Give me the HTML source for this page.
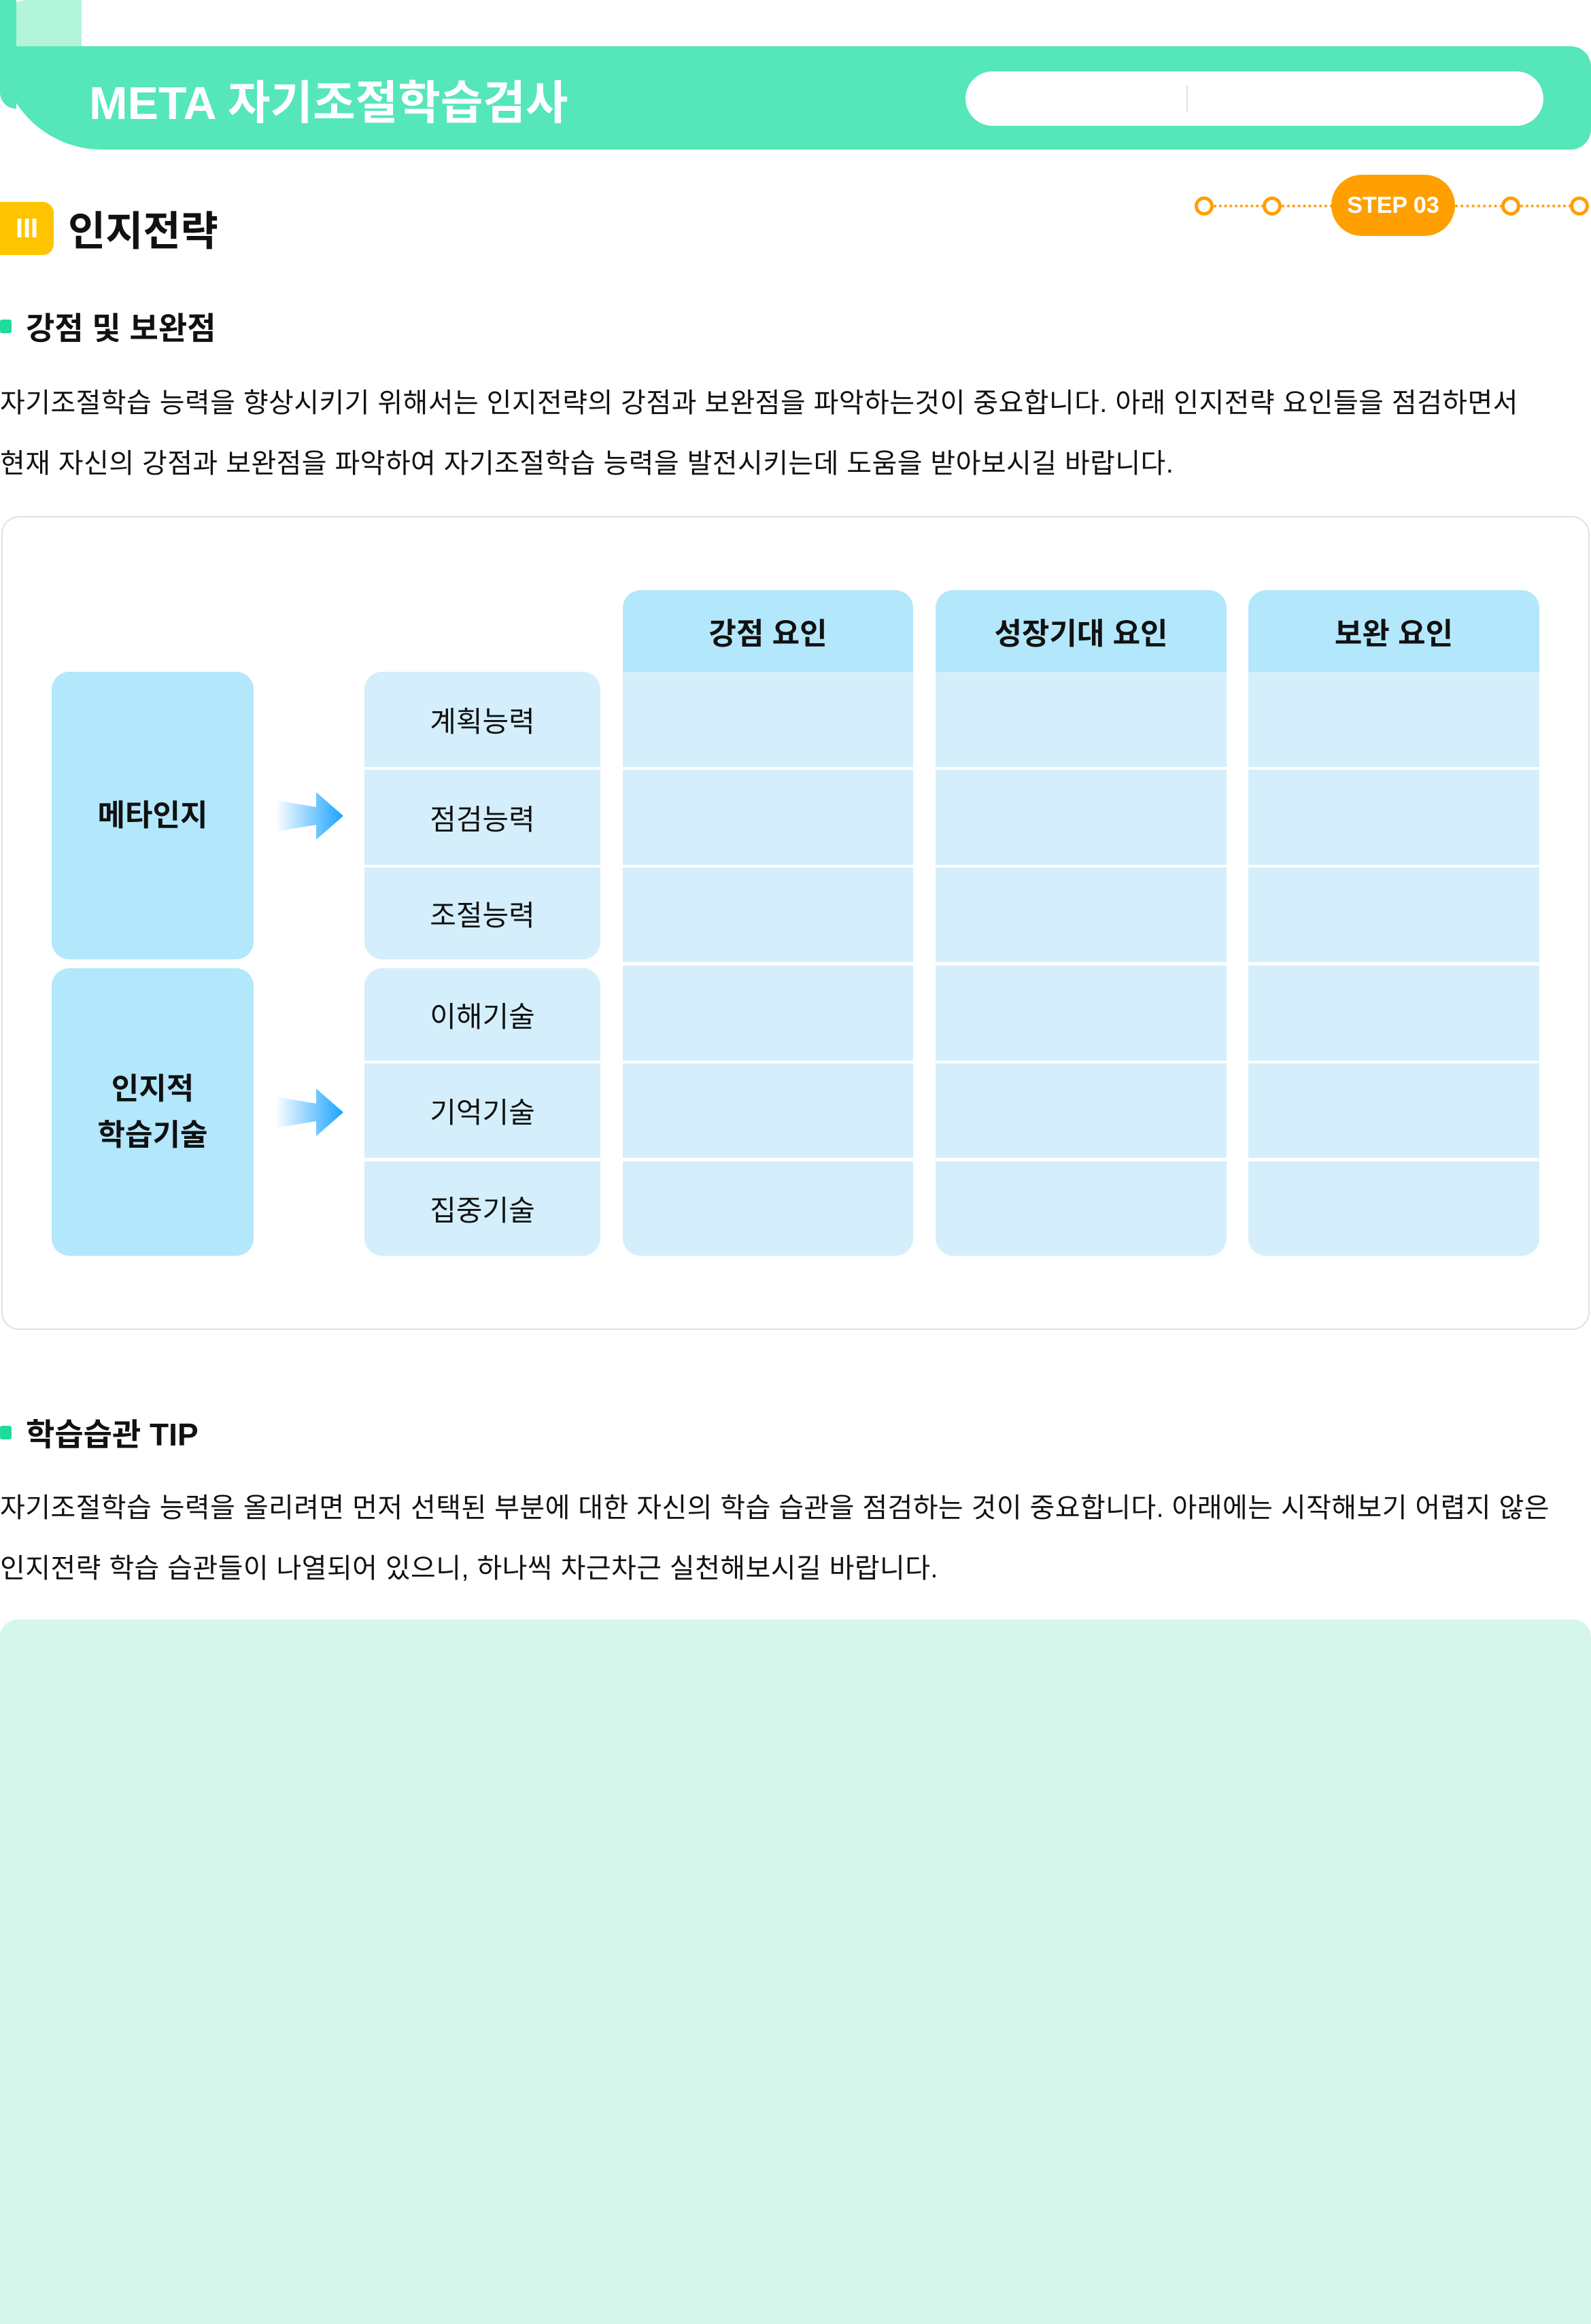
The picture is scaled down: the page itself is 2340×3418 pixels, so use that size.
<!DOCTYPE html>
<html><head><meta charset="utf-8"><style>
*{margin:0;padding:0;box-sizing:border-box}
body{width:2340px;height:3418px;position:relative;background:#fff;font-family:"Liberation Sans","Noto Sans CJK KR",sans-serif;color:#111;overflow:hidden}
.a{position:absolute}
.t{position:absolute;white-space:nowrap}
.cell{position:absolute;background:#d4effb;display:flex;align-items:center;justify-content:center;font-size:42px}
.hd{position:absolute;background:#b3e7fc;display:flex;align-items:center;justify-content:center;font-size:44px;font-weight:bold;border-radius:26px 26px 0 0}
.big{position:absolute;background:#b3e7fc;border-radius:26px;display:flex;align-items:center;justify-content:center;text-align:center;font-size:44px;font-weight:bold;line-height:68px}
.dot{position:absolute;width:28px;height:28px;border:5px solid #ff9f00;border-radius:50%;background:#fff;top:289px}
.dl{position:absolute;top:301px;border-top:4px dotted #ff9f00}
.p{font-size:40px;letter-spacing:0.4px}
</style></head><body>
<div class="a" style="left:0;top:0;width:120px;height:90px;background:#b2f5da;border-radius:40px 0 0 0"></div>
<div class="a" style="left:0;top:68px;width:2340px;height:152px;background:#55e6ba;border-radius:0 30px 30px 150px"></div>
<div class="a" style="left:0;top:0;width:24px;height:160px;background:#55e6ba;border-radius:0 0 0 24px"></div>
<div class="t" style="left:131px;top:96px;font-size:68px;font-weight:bold;color:#fff">META 자기조절학습검사</div>
<div class="a" style="left:1420px;top:105px;width:850px;height:80px;background:#fff;border-radius:40px"></div>
<div class="a" style="left:1745px;top:126px;width:2px;height:38px;background:#dde"></div>

<div class="a" style="left:0;top:297px;width:79px;height:78px;background:#ffc400;border-radius:0 16px 16px 0;color:#fff;font-size:40px;font-weight:bold;display:flex;align-items:center;justify-content:center">III</div>
<div class="t" style="left:100px;top:292px;font-size:60px;font-weight:bold">인지전략</div>

<div class="dl" style="left:1785px;width:74px"></div>
<div class="dl" style="left:1885px;width:75px"></div>
<div class="dl" style="left:2140px;width:70px"></div>
<div class="dl" style="left:2236px;width:75px"></div>
<div class="dot" style="left:1757px"></div>
<div class="dot" style="left:1857px"></div>
<div class="dot" style="left:2208px"></div>
<div class="dot" style="left:2309px"></div>
<div class="a" style="left:1958px;top:257px;width:182px;height:90px;background:#ff9f00;border-radius:45px;color:#fff;font-size:34px;font-weight:bold;display:flex;align-items:center;justify-content:center">STEP 03</div>

<div class="a" style="left:0;top:470px;width:17px;height:20px;background:#1ddc9e;border-radius:3px"></div>
<div class="t" style="left:38px;top:447px;font-size:46px;font-weight:bold">강점 및 보완점</div>
<div class="t p" style="left:0;top:560px">자기조절학습 능력을 향상시키기 위해서는 인지전략의 강점과 보완점을 파악하는것이 중요합니다. 아래 인지전략 요인들을 점검하면서</div>
<div class="t p" style="left:0;top:649px">현재 자신의 강점과 보완점을 파악하여 자기조절학습 능력을 발전시키는데 도움을 받아보시길 바랍니다.</div>

<div class="a" style="left:2px;top:759px;width:2336px;height:1197px;border:2px solid #dde1e6;border-radius:26px"></div>

<div class="hd" style="left:916px;top:868px;width:427px;height:120px">강점 요인</div>
<div class="hd" style="left:1376px;top:868px;width:428px;height:120px">성장기대 요인</div>
<div class="hd" style="left:1836px;top:868px;width:428px;height:120px">보완 요인</div>

<div class="big" style="left:76px;top:988px;width:297px;height:423px">메타인지</div>
<div class="big" style="left:76px;top:1424px;width:297px;height:423px">인지적<br>학습기술</div>

<svg class="a" style="left:405px;top:1165px" width="105" height="70"><defs><linearGradient id="g"><stop offset="0" stop-color="#1aa3ff" stop-opacity="0"/><stop offset="1" stop-color="#1aa3ff"/></linearGradient></defs><polygon points="0,12 60,22 60,0 100,35 60,70 60,48 0,58" fill="url(#g)"/></svg>
<svg class="a" style="left:405px;top:1601px" width="105" height="70"><polygon points="0,12 60,22 60,0 100,35 60,70 60,48 0,58" fill="url(#g)"/></svg>

<div class="cell" style="left:536px;top:988px;width:347px;height:140px;border-radius:26px 26px 0 0">계획능력</div>
<div class="cell" style="left:536px;top:1132px;width:347px;height:140px">점검능력</div>
<div class="cell" style="left:536px;top:1276px;width:347px;height:135px;border-radius:0 0 26px 26px">조절능력</div>
<div class="cell" style="left:536px;top:1424px;width:347px;height:136px;border-radius:26px 26px 0 0">이해기술</div>
<div class="cell" style="left:536px;top:1564px;width:347px;height:139px">기억기술</div>
<div class="cell" style="left:536px;top:1708px;width:347px;height:139px;border-radius:0 0 26px 26px">집중기술</div>

<div class="cell" style="left:916px;top:988px;width:427px;height:140px"></div>
<div class="cell" style="left:916px;top:1132px;width:427px;height:140px"></div>
<div class="cell" style="left:916px;top:1276px;width:427px;height:139px"></div>
<div class="cell" style="left:916px;top:1420px;width:427px;height:140px"></div>
<div class="cell" style="left:916px;top:1564px;width:427px;height:139px"></div>
<div class="cell" style="left:916px;top:1708px;width:427px;height:139px;border-radius:0 0 26px 26px"></div>
<div class="cell" style="left:1376px;top:988px;width:428px;height:140px"></div>
<div class="cell" style="left:1376px;top:1132px;width:428px;height:140px"></div>
<div class="cell" style="left:1376px;top:1276px;width:428px;height:139px"></div>
<div class="cell" style="left:1376px;top:1420px;width:428px;height:140px"></div>
<div class="cell" style="left:1376px;top:1564px;width:428px;height:139px"></div>
<div class="cell" style="left:1376px;top:1708px;width:428px;height:139px;border-radius:0 0 26px 26px"></div>
<div class="cell" style="left:1836px;top:988px;width:428px;height:140px"></div>
<div class="cell" style="left:1836px;top:1132px;width:428px;height:140px"></div>
<div class="cell" style="left:1836px;top:1276px;width:428px;height:139px"></div>
<div class="cell" style="left:1836px;top:1420px;width:428px;height:140px"></div>
<div class="cell" style="left:1836px;top:1564px;width:428px;height:139px"></div>
<div class="cell" style="left:1836px;top:1708px;width:428px;height:139px;border-radius:0 0 26px 26px"></div>

<div class="a" style="left:0;top:2097px;width:17px;height:20px;background:#1ddc9e;border-radius:3px"></div>
<div class="t" style="left:38px;top:2074px;font-size:46px;font-weight:bold">학습습관 TIP</div>
<div class="t p" style="left:0;top:2185px">자기조절학습 능력을 올리려면 먼저 선택된 부분에 대한 자신의 학습 습관을 점검하는 것이 중요합니다. 아래에는 시작해보기 어렵지 않은</div>
<div class="t p" style="left:0;top:2274px">인지전략 학습 습관들이 나열되어 있으니, 하나씩 차근차근 실천해보시길 바랍니다.</div>

<div class="a" style="left:0;top:2382px;width:2340px;height:1036px;background:#d5f6ea;border-radius:26px 26px 0 0"></div>
</body></html>
